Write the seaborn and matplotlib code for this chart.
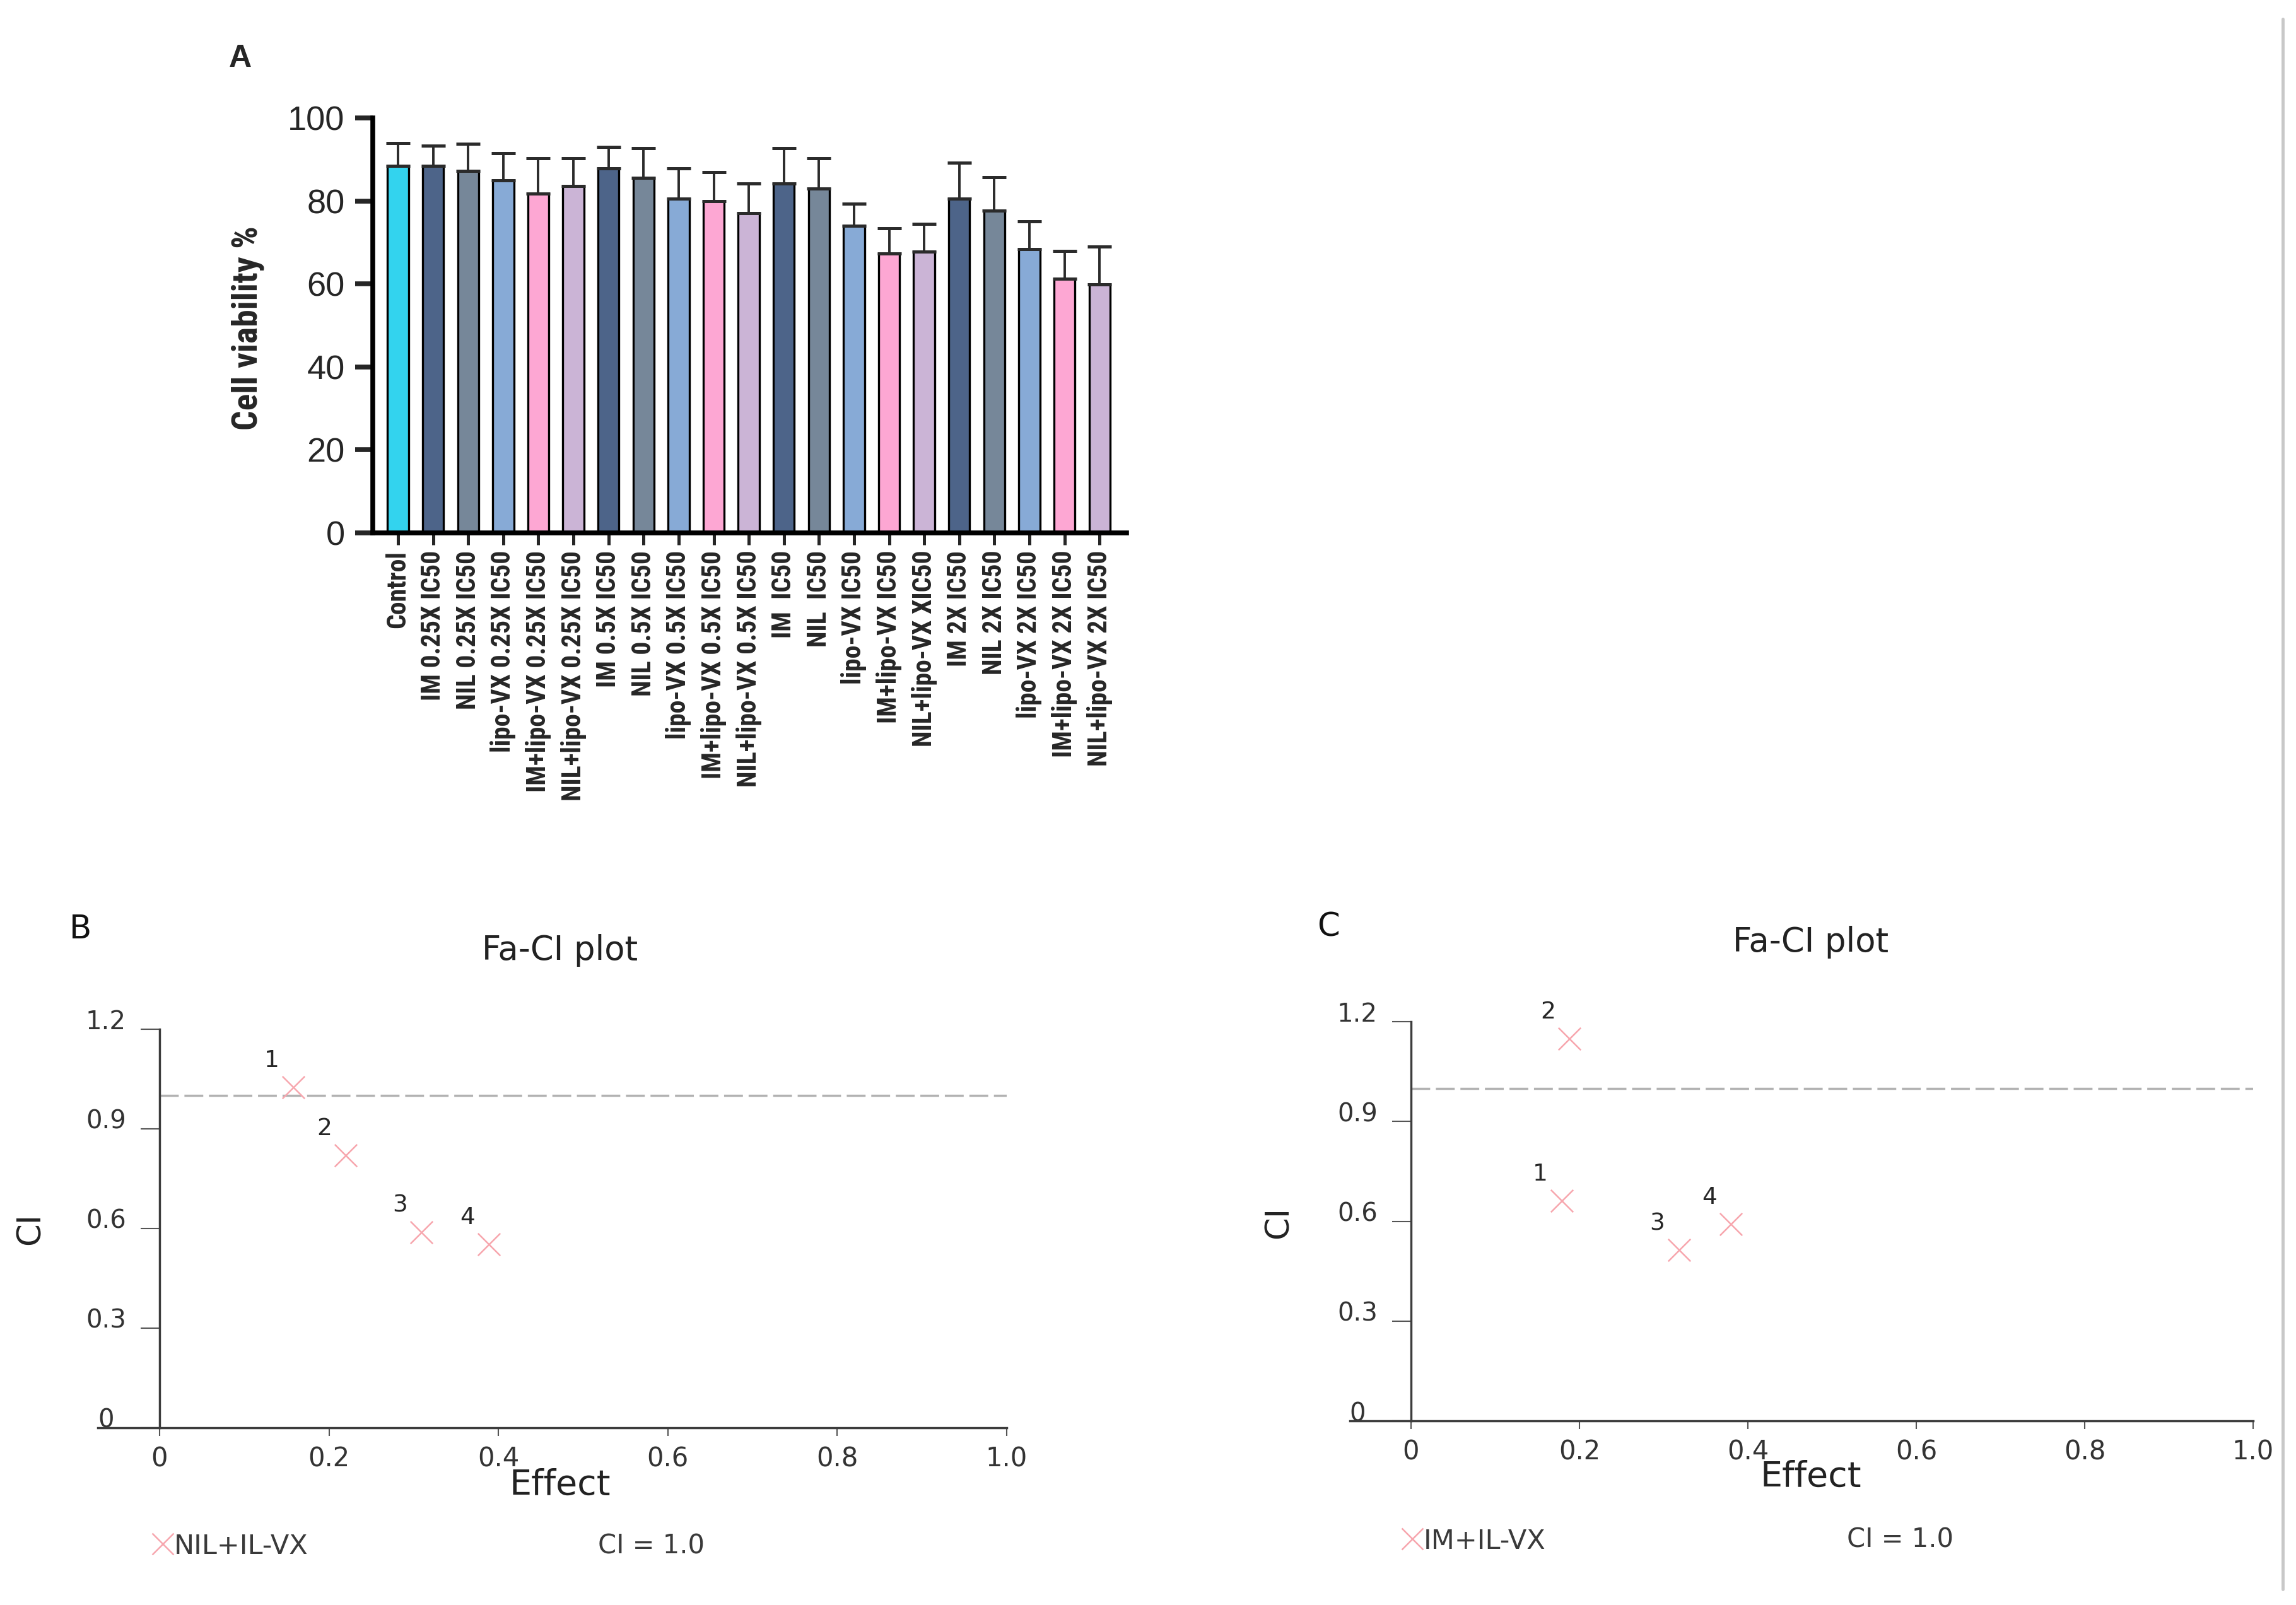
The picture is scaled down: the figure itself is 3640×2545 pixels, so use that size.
import numpy as np
import pandas as pd
import matplotlib
matplotlib.use("Agg")
import matplotlib.pyplot as plt
from matplotlib import font_manager as fm
from matplotlib.lines import Line2D
import seaborn as sns

W, H = 3640, 2545
DPI = 100

# ---- panel A: cell viability
labels = [
    "Control",
    "IM 0.25X IC50", "NIL 0.25X IC50", "lipo-VX 0.25X IC50",
    "IM+lipo-VX 0.25X IC50", "NIL+lipo-VX 0.25X IC50",
    "IM 0.5X IC50", "NIL 0.5X IC50", "lipo-VX 0.5X IC50",
    "IM+lipo-VX 0.5X IC50", "NIL+lipo-VX 0.5X IC50",
    "IM  IC50", "NIL  IC50", "lipo-VX IC50",
    "IM+lipo-VX IC50", "NIL+lipo-VX XIC50",
    "IM 2X IC50", "NIL 2X IC50", "lipo-VX 2X IC50",
    "IM+lipo-VX 2X IC50", "NIL+lipo-VX 2X IC50",
]
groups = ["Control"] + ["IM", "NIL", "lipo-VX", "IM+lipo-VX", "NIL+lipo-VX"] * 4
viability = [88.5, 88.5, 87.3, 84.9, 81.8, 83.6, 87.8, 85.5, 80.6, 79.9, 77.0,
             84.2, 83.0, 74.0, 67.3, 67.8, 80.6, 77.6, 68.4, 61.2, 59.9]
err_up = [5.4, 4.8, 6.4, 6.6, 8.5, 6.7, 5.2, 7.2, 7.2, 7.1, 7.2,
          8.5, 7.3, 5.3, 6.1, 6.7, 8.6, 8.1, 6.7, 6.8, 9.1]

group_colors = {
    "Control": "#33D3EE",
    "IM": "#4D6489",
    "NIL": "#768799",
    "lipo-VX": "#87AAD6",
    "IM+lipo-VX": "#FDA7D3",
    "NIL+lipo-VX": "#CBB4D6",
}

# ---- panels B and C: Fa-CI plots
point_ids = ["1", "2", "3", "4"]
b_effect = [0.158, 0.220, 0.309, 0.389]
b_ci = [1.025, 0.820, 0.589, 0.552]
c_effect = [0.179, 0.188, 0.318, 0.380]
c_ci = [0.662, 1.148, 0.513, 0.592]
ci_ref = 1.0
x_ticks = [0, 0.2, 0.4, 0.6, 0.8, 1.0]
x_ticklabels = ["0", "0.2", "0.4", "0.6", "0.8", "1.0"]
y_ticks = [0, 0.3, 0.6, 0.9, 1.2]
y_ticklabels = ["0", "0.3", "0.6", "0.9", "1.2"]

sns.set_style("white")
plt.rcParams["font.family"] = ["DejaVu Sans"]
ARIAL = ["Liberation Sans", "DejaVu Sans"]


# a condensed face for the GraphPad style labels, if one is installed
def condensed_font():
    fonts = fm.fontManager.ttflist
    for name in ["Liberation Sans Narrow", "Arial Narrow", "Roboto Condensed",
                 "Open Sans Condensed", "Noto Sans Condensed"]:
        if any(f.name == name for f in fonts):
            return {"family": [name, "DejaVu Sans"]}, 1.0
    for name in ["Noto Sans", "Open Sans", "Roboto"]:
        if any(f.name == name and f.stretch == "condensed" for f in fonts):
            return {"family": [name, "DejaVu Sans"], "stretch": "condensed"}, 1.0
    return {"family": ARIAL}, 0.86


NARROW, shrink = condensed_font()
PINK = "#F7A6AE"
GREY = "#3c3c3c"


def fx(px):
    return px / W


def fy(py):
    return 1 - py / H


fig = plt.figure(figsize=(W / DPI, H / DPI), dpi=DPI)

# ---------------- panel A
axA = fig.add_axes([fx(591), fy(845), (1786 - 591) / W, (845 - 187) / H])
df_a = pd.DataFrame({"label": labels, "group": groups,
                     "viability": viability, "err": err_up})
bar_colors = [group_colors[g] for g in groups]
sns.barplot(data=df_a, x="label", y="viability", hue="label",
            palette=bar_colors, saturation=1, width=0.6,
            edgecolor="black", linewidth=2.4, errorbar=None,
            legend=False, ax=axA)
n = len(labels)
axA.errorbar(np.arange(n), df_a["viability"],
             yerr=[np.zeros(n), df_a["err"]], fmt="none",
             ecolor="#2b2b2b", elinewidth=2.8, capsize=14, capthick=3.6,
             zorder=3)
axA.set_xlim(-0.72, 20.77)
axA.set_ylim(0, 100)
axA.set_yticks(range(0, 101, 20))
for s in ["top", "right"]:
    axA.spines[s].set_visible(False)
for s in ["left", "bottom"]:
    axA.spines[s].set_linewidth(5.5)
    axA.spines[s].set_color("black")
axA.tick_params(axis="y", length=20, width=5.5, pad=12, labelsize=39,
                direction="out", left=True)
axA.tick_params(axis="x", length=14, width=3.6, pad=6, direction="out",
                bottom=True)
axA.set_xticks(range(n))
axA.set_xticklabels(labels, rotation=90, fontsize=30 * shrink,
                    fontweight="bold", va="top", **NARROW)
for t in axA.get_yticklabels():
    t.set_family(ARIAL)
axA.set_xlabel("")
axA.set_ylabel("")
fig.text(fx(393), fy(520), "Cell viability %", rotation=90, ha="center",
         va="center", fontsize=40 * shrink, fontweight="bold", **NARROW)
fig.text(fx(381), fy(93), "A", ha="center", va="center", fontsize=36,
         fontweight="bold", family=ARIAL)


# ---------------- panels B and C
def fa_ci(ax, effect, ci):
    df = pd.DataFrame({"effect": effect, "ci": ci, "id": point_ids})
    ax.hlines(ci_ref, 0, 1.0, colors="#b2b2b2", linewidth=2.5,
              linestyles=(0, (8.6, 2.6)), zorder=1)
    sns.scatterplot(data=df, x="effect", y="ci", marker="x", s=650,
                    color=PINK, linewidth=1.8, ax=ax, zorder=3,
                    clip_on=False)
    for _, r in df.iterrows():
        ax.annotate(r["id"], (r["effect"], r["ci"]), xytext=(-34, 42),
                    textcoords="offset pixels", ha="center", va="center",
                    fontsize=27, color="#262626")
    ax.set_xlim(-0.073, 1.0)
    ax.set_ylim(0, 1.2)
    for s in ["top", "right"]:
        ax.spines[s].set_visible(False)
    ax.spines["left"].set_position(("data", 0))
    for s in ["left", "bottom"]:
        ax.spines[s].set_linewidth(2.5)
        ax.spines[s].set_color(GREY)
    ax.set_xticks(x_ticks)
    ax.set_xticklabels(x_ticklabels)
    ax.set_yticks(y_ticks)
    ax.set_yticklabels(y_ticklabels)
    ax.tick_params(axis="y", length=21.6, width=1.5, color="#555555",
                   pad=39.6, labelsize=29, labelcolor="#333333", left=True)
    ax.tick_params(axis="x", length=9.4, width=1.5, color="#555555",
                   pad=11, labelsize=30, labelcolor="#333333", bottom=True)
    plt.setp(ax.get_yticklabels(), ha="center", va="baseline")
    ax.set_xlabel("")
    ax.set_ylabel("")


# x of Effect = 0 and 1.0, y of CI = 0 and 1.2, in pixels
b_box = (253, 1596, 2264, 1632)
c_box = (2237, 3572, 2253, 1620)
axes_fc = []
for x0, x1, y0, y1 in [b_box, c_box]:
    left = x0 - 0.073 * (x1 - x0)
    ax = fig.add_axes([fx(left), fy(y0), (x1 - left) / W, (y0 - y1) / H])
    axes_fc.append(ax)
fa_ci(axes_fc[0], b_effect, b_ci)
fa_ci(axes_fc[1], c_effect, c_ci)

panel_text = [
    # letter, letter xy, title xy, CI xy, Effect xy, marker xy, name, CI=1 xy
    ("B", (128, 1474), (888, 1507), (49, 1949), (888, 2355), (258, 2448),
     "NIL+IL-VX", (1033, 2452)),
    ("C", (2106, 1470), (2871, 1494), (2028, 1938), (2871, 2342),
     (2239, 2440), "IM+IL-VX", (3013, 2442)),
]
for letter, lxy, txy, cixy, exy, mxy, name, refxy in panel_text:
    fig.text(fx(lxy[0]), fy(lxy[1]), letter, ha="center", va="center",
             fontsize=37, color="#111111")
    fig.text(fx(txy[0]), fy(txy[1]), "Fa-CI plot", ha="center",
             va="center", fontsize=38, color="#222222")
    fig.text(fx(cixy[0]), fy(cixy[1]), "CI", rotation=90, ha="center",
             va="center", fontsize=37, color="#222222")
    fig.text(fx(exy[0]), fy(exy[1]), "Effect", ha="center", va="center",
             fontsize=40, color="#222222")
    fig.add_artist(Line2D([fx(mxy[0])], [fy(mxy[1])], marker="x",
                          markersize=24, markeredgewidth=1.8, color=PINK,
                          linestyle="none"))
    fig.text(fx(mxy[0] + 18), fy(mxy[1] + 4), name, ha="left", va="center",
             fontsize=31, color="#3a3a3a")
    fig.text(fx(refxy[0]), fy(refxy[1]), "CI = 1.0", ha="center",
             va="center", fontsize=30, color="#3a3a3a")

# grey frame line at the right edge
fig.add_artist(Line2D([fx(3619), fx(3619)], [fy(30), fy(2520)],
                      color="#c8c8c8", linewidth=3.5))

fig.savefig("out.png", dpi=DPI, facecolor="white")
